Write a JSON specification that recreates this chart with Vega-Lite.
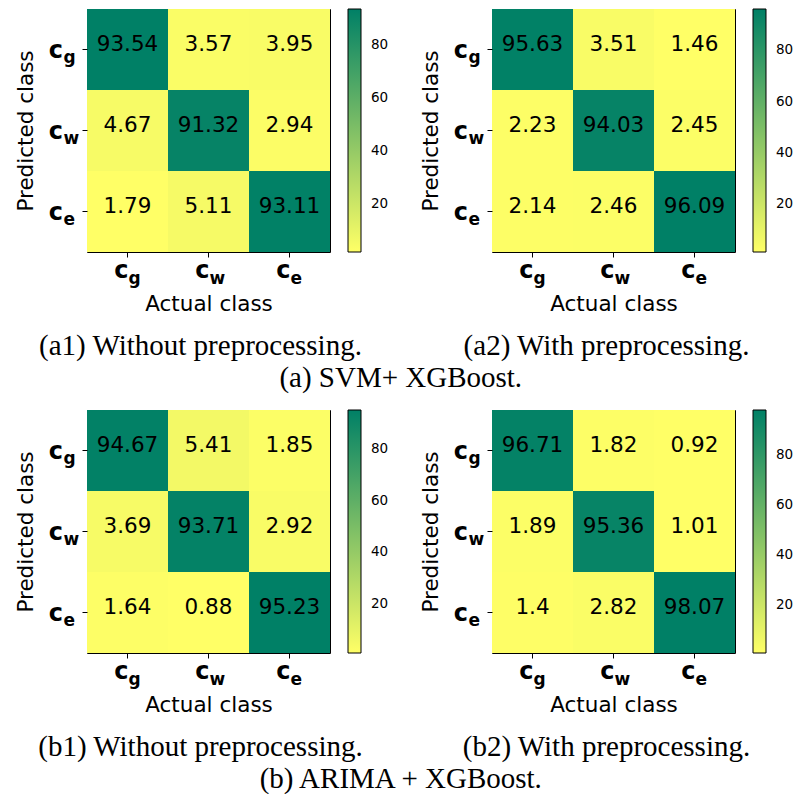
{
  "$schema": "https://vega.github.io/schema/vega-lite/v6.json",
  "padding": {"left": 15, "top": 8, "right": 0, "bottom": 0},
  "background": "white",
  "datasets": {
    "cm": [
      {"panel": "a1", "predicted": "c_g", "actual": "c_g", "value": 93.54},
      {"panel": "a1", "predicted": "c_g", "actual": "c_w", "value": 3.57},
      {"panel": "a1", "predicted": "c_g", "actual": "c_e", "value": 3.95},
      {"panel": "a1", "predicted": "c_w", "actual": "c_g", "value": 4.67},
      {"panel": "a1", "predicted": "c_w", "actual": "c_w", "value": 91.32},
      {"panel": "a1", "predicted": "c_w", "actual": "c_e", "value": 2.94},
      {"panel": "a1", "predicted": "c_e", "actual": "c_g", "value": 1.79},
      {"panel": "a1", "predicted": "c_e", "actual": "c_w", "value": 5.11},
      {"panel": "a1", "predicted": "c_e", "actual": "c_e", "value": 93.11},
      {"panel": "a2", "predicted": "c_g", "actual": "c_g", "value": 95.63},
      {"panel": "a2", "predicted": "c_g", "actual": "c_w", "value": 3.51},
      {"panel": "a2", "predicted": "c_g", "actual": "c_e", "value": 1.46},
      {"panel": "a2", "predicted": "c_w", "actual": "c_g", "value": 2.23},
      {"panel": "a2", "predicted": "c_w", "actual": "c_w", "value": 94.03},
      {"panel": "a2", "predicted": "c_w", "actual": "c_e", "value": 2.45},
      {"panel": "a2", "predicted": "c_e", "actual": "c_g", "value": 2.14},
      {"panel": "a2", "predicted": "c_e", "actual": "c_w", "value": 2.46},
      {"panel": "a2", "predicted": "c_e", "actual": "c_e", "value": 96.09},
      {"panel": "b1", "predicted": "c_g", "actual": "c_g", "value": 94.67},
      {"panel": "b1", "predicted": "c_g", "actual": "c_w", "value": 5.41},
      {"panel": "b1", "predicted": "c_g", "actual": "c_e", "value": 1.85},
      {"panel": "b1", "predicted": "c_w", "actual": "c_g", "value": 3.69},
      {"panel": "b1", "predicted": "c_w", "actual": "c_w", "value": 93.71},
      {"panel": "b1", "predicted": "c_w", "actual": "c_e", "value": 2.92},
      {"panel": "b1", "predicted": "c_e", "actual": "c_g", "value": 1.64},
      {"panel": "b1", "predicted": "c_e", "actual": "c_w", "value": 0.88},
      {"panel": "b1", "predicted": "c_e", "actual": "c_e", "value": 95.23},
      {"panel": "b2", "predicted": "c_g", "actual": "c_g", "value": 96.71},
      {"panel": "b2", "predicted": "c_g", "actual": "c_w", "value": 1.82},
      {"panel": "b2", "predicted": "c_g", "actual": "c_e", "value": 0.92},
      {"panel": "b2", "predicted": "c_w", "actual": "c_g", "value": 1.89},
      {"panel": "b2", "predicted": "c_w", "actual": "c_w", "value": 95.36},
      {"panel": "b2", "predicted": "c_w", "actual": "c_e", "value": 1.01},
      {"panel": "b2", "predicted": "c_e", "actual": "c_g", "value": 1.4},
      {"panel": "b2", "predicted": "c_e", "actual": "c_w", "value": 2.82},
      {"panel": "b2", "predicted": "c_e", "actual": "c_e", "value": 98.07}
    ],
    "cls": [
      {"cls": "c_g", "base": "c", "sub": "g"},
      {"cls": "c_w", "base": "c", "sub": "w"},
      {"cls": "c_e", "base": "c", "sub": "e"}
    ]
  },
  "spacing": 16,
  "resolve": {"scale": {"color": "independent"}, "legend": {"color": "independent"}},
  "vconcat": [
    {
      "title": {"text": "(a) SVM+ XGBoost.", "orient": "bottom", "anchor": "middle", "frame": "bounds", "baseline": "alphabetic", "offset": 25, "dx": -4, "font": "Liberation Serif", "fontSize": 29, "fontWeight": "normal", "color": "black"},
      "spacing": 30,
      "resolve": {"scale": {"color": "independent"}, "legend": {"color": "independent"}},
      "hconcat": [
        {
          "width": 243, "height": 243,
          "title": {"text": "(a1) Without preprocessing.", "orient": "bottom", "anchor": "middle", "baseline": "alphabetic", "offset": 40, "dx": -8, "font": "Liberation Serif", "fontSize": 29, "fontWeight": "normal", "color": "black"},
          "layer": [
            {"data": {"name": "cm"}, "transform": [{"filter": "datum.panel === 'a1'"}],
             "mark": {"type": "rect"},
             "encoding": {
               "x": {"field": "actual", "type": "nominal", "title": "Actual class", "scale": {"domain": ["c_g", "c_w", "c_e"], "paddingInner": 0, "paddingOuter": 0}},
               "y": {"field": "predicted", "type": "nominal", "title": "Predicted class", "scale": {"domain": ["c_g", "c_w", "c_e"], "paddingInner": 0, "paddingOuter": 0}},
               "color": {"field": "value", "type": "quantitative", "scale": {"type": "linear", "range": ["#ffff66", "#008066"], "zero": false, "nice": false, "interpolate": "rgb"}, "legend": {"title": null, "values": [20, 40, 60, 80], "labelFontSize": 13.5, "labelFont": "DejaVu Sans", "labelColor": "black", "labelOffset": 10}}
             }},
            {"data": {"name": "cm"}, "transform": [{"filter": "datum.panel === 'a1'"}],
             "mark": {"type": "text", "baseline": "alphabetic", "dy": 1.3, "fontSize": 21.5, "font": "DejaVu Sans", "color": "black"},
             "encoding": {
               "x": {"field": "actual", "type": "nominal", "title": "Actual class"},
               "y": {"field": "predicted", "type": "nominal", "title": "Predicted class"},
               "text": {"field": "value", "type": "nominal"}
             }},
            {"data": {"name": "cls"},
             "mark": {"type": "text", "align": "right", "baseline": "alphabetic", "dx": 1, "dy": 66, "fontSize": 24, "fontWeight": "bold", "font": "DejaVu Sans", "color": "black"},
             "encoding": {"x": {"field": "cls", "type": "nominal", "title": "Actual class"}, "y": {"datum": "c_e", "type": "nominal", "title": "Predicted class"}, "text": {"field": "base"}}},
            {"data": {"name": "cls"},
             "mark": {"type": "text", "align": "left", "baseline": "alphabetic", "dx": 1, "dy": 72.5, "fontSize": 17, "fontWeight": "bold", "font": "DejaVu Sans", "color": "black"},
             "encoding": {"x": {"field": "cls", "type": "nominal", "title": "Actual class"}, "y": {"datum": "c_e", "type": "nominal", "title": "Predicted class"}, "text": {"field": "sub"}}},
            {"data": {"name": "cls"},
             "mark": {"type": "text", "align": "right", "baseline": "alphabetic", "dx": -64.5, "dy": 8.5, "fontSize": 24, "fontWeight": "bold", "font": "DejaVu Sans", "color": "black"},
             "encoding": {"y": {"field": "cls", "type": "nominal", "title": "Predicted class"}, "x": {"datum": "c_g", "type": "nominal", "title": "Actual class"}, "text": {"field": "base"}}},
            {"data": {"name": "cls"},
             "mark": {"type": "text", "align": "left", "baseline": "alphabetic", "dx": -64, "dy": 13, "fontSize": 17, "fontWeight": "bold", "font": "DejaVu Sans", "color": "black"},
             "encoding": {"y": {"field": "cls", "type": "nominal", "title": "Predicted class"}, "x": {"datum": "c_g", "type": "nominal", "title": "Actual class"}, "text": {"field": "sub"}}}
          ]
        },
        {
          "width": 243, "height": 243,
          "title": {"text": "(a2) With preprocessing.", "orient": "bottom", "anchor": "middle", "baseline": "alphabetic", "offset": 40, "dx": -7, "font": "Liberation Serif", "fontSize": 29, "fontWeight": "normal", "color": "black"},
          "layer": [
            {"data": {"name": "cm"}, "transform": [{"filter": "datum.panel === 'a2'"}],
             "mark": {"type": "rect"},
             "encoding": {
               "x": {"field": "actual", "type": "nominal", "title": "Actual class", "scale": {"domain": ["c_g", "c_w", "c_e"], "paddingInner": 0, "paddingOuter": 0}},
               "y": {"field": "predicted", "type": "nominal", "title": "Predicted class", "scale": {"domain": ["c_g", "c_w", "c_e"], "paddingInner": 0, "paddingOuter": 0}},
               "color": {"field": "value", "type": "quantitative", "scale": {"type": "linear", "range": ["#ffff66", "#008066"], "zero": false, "nice": false, "interpolate": "rgb"}, "legend": {"title": null, "values": [20, 40, 60, 80], "labelFontSize": 13.5, "labelFont": "DejaVu Sans", "labelColor": "black", "labelOffset": 10}}
             }},
            {"data": {"name": "cm"}, "transform": [{"filter": "datum.panel === 'a2'"}],
             "mark": {"type": "text", "baseline": "alphabetic", "dy": 1.3, "fontSize": 21.5, "font": "DejaVu Sans", "color": "black"},
             "encoding": {
               "x": {"field": "actual", "type": "nominal", "title": "Actual class"},
               "y": {"field": "predicted", "type": "nominal", "title": "Predicted class"},
               "text": {"field": "value", "type": "nominal"}
             }},
            {"data": {"name": "cls"},
             "mark": {"type": "text", "align": "right", "baseline": "alphabetic", "dx": 1, "dy": 66, "fontSize": 24, "fontWeight": "bold", "font": "DejaVu Sans", "color": "black"},
             "encoding": {"x": {"field": "cls", "type": "nominal", "title": "Actual class"}, "y": {"datum": "c_e", "type": "nominal", "title": "Predicted class"}, "text": {"field": "base"}}},
            {"data": {"name": "cls"},
             "mark": {"type": "text", "align": "left", "baseline": "alphabetic", "dx": 1, "dy": 72.5, "fontSize": 17, "fontWeight": "bold", "font": "DejaVu Sans", "color": "black"},
             "encoding": {"x": {"field": "cls", "type": "nominal", "title": "Actual class"}, "y": {"datum": "c_e", "type": "nominal", "title": "Predicted class"}, "text": {"field": "sub"}}},
            {"data": {"name": "cls"},
             "mark": {"type": "text", "align": "right", "baseline": "alphabetic", "dx": -64.5, "dy": 8.5, "fontSize": 24, "fontWeight": "bold", "font": "DejaVu Sans", "color": "black"},
             "encoding": {"y": {"field": "cls", "type": "nominal", "title": "Predicted class"}, "x": {"datum": "c_g", "type": "nominal", "title": "Actual class"}, "text": {"field": "base"}}},
            {"data": {"name": "cls"},
             "mark": {"type": "text", "align": "left", "baseline": "alphabetic", "dx": -64, "dy": 13, "fontSize": 17, "fontWeight": "bold", "font": "DejaVu Sans", "color": "black"},
             "encoding": {"y": {"field": "cls", "type": "nominal", "title": "Predicted class"}, "x": {"datum": "c_g", "type": "nominal", "title": "Actual class"}, "text": {"field": "sub"}}}
          ]
        }
      ]
    },
    {
      "title": {"text": "(b) ARIMA + XGBoost.", "orient": "bottom", "anchor": "middle", "frame": "bounds", "baseline": "alphabetic", "offset": 25, "dx": -4, "font": "Liberation Serif", "fontSize": 29, "fontWeight": "normal", "color": "black"},
      "spacing": 30,
      "resolve": {"scale": {"color": "independent"}, "legend": {"color": "independent"}},
      "hconcat": [
        {
          "width": 243, "height": 243,
          "title": {"text": "(b1) Without preprocessing.", "orient": "bottom", "anchor": "middle", "baseline": "alphabetic", "offset": 40, "dx": -8, "font": "Liberation Serif", "fontSize": 29, "fontWeight": "normal", "color": "black"},
          "layer": [
            {"data": {"name": "cm"}, "transform": [{"filter": "datum.panel === 'b1'"}],
             "mark": {"type": "rect"},
             "encoding": {
               "x": {"field": "actual", "type": "nominal", "title": "Actual class", "scale": {"domain": ["c_g", "c_w", "c_e"], "paddingInner": 0, "paddingOuter": 0}},
               "y": {"field": "predicted", "type": "nominal", "title": "Predicted class", "scale": {"domain": ["c_g", "c_w", "c_e"], "paddingInner": 0, "paddingOuter": 0}},
               "color": {"field": "value", "type": "quantitative", "scale": {"type": "linear", "range": ["#ffff66", "#008066"], "zero": false, "nice": false, "interpolate": "rgb"}, "legend": {"title": null, "values": [20, 40, 60, 80], "labelFontSize": 13.5, "labelFont": "DejaVu Sans", "labelColor": "black", "labelOffset": 10}}
             }},
            {"data": {"name": "cm"}, "transform": [{"filter": "datum.panel === 'b1'"}],
             "mark": {"type": "text", "baseline": "alphabetic", "dy": 1.3, "fontSize": 21.5, "font": "DejaVu Sans", "color": "black"},
             "encoding": {
               "x": {"field": "actual", "type": "nominal", "title": "Actual class"},
               "y": {"field": "predicted", "type": "nominal", "title": "Predicted class"},
               "text": {"field": "value", "type": "nominal"}
             }},
            {"data": {"name": "cls"},
             "mark": {"type": "text", "align": "right", "baseline": "alphabetic", "dx": 1, "dy": 66, "fontSize": 24, "fontWeight": "bold", "font": "DejaVu Sans", "color": "black"},
             "encoding": {"x": {"field": "cls", "type": "nominal", "title": "Actual class"}, "y": {"datum": "c_e", "type": "nominal", "title": "Predicted class"}, "text": {"field": "base"}}},
            {"data": {"name": "cls"},
             "mark": {"type": "text", "align": "left", "baseline": "alphabetic", "dx": 1, "dy": 72.5, "fontSize": 17, "fontWeight": "bold", "font": "DejaVu Sans", "color": "black"},
             "encoding": {"x": {"field": "cls", "type": "nominal", "title": "Actual class"}, "y": {"datum": "c_e", "type": "nominal", "title": "Predicted class"}, "text": {"field": "sub"}}},
            {"data": {"name": "cls"},
             "mark": {"type": "text", "align": "right", "baseline": "alphabetic", "dx": -64.5, "dy": 8.5, "fontSize": 24, "fontWeight": "bold", "font": "DejaVu Sans", "color": "black"},
             "encoding": {"y": {"field": "cls", "type": "nominal", "title": "Predicted class"}, "x": {"datum": "c_g", "type": "nominal", "title": "Actual class"}, "text": {"field": "base"}}},
            {"data": {"name": "cls"},
             "mark": {"type": "text", "align": "left", "baseline": "alphabetic", "dx": -64, "dy": 13, "fontSize": 17, "fontWeight": "bold", "font": "DejaVu Sans", "color": "black"},
             "encoding": {"y": {"field": "cls", "type": "nominal", "title": "Predicted class"}, "x": {"datum": "c_g", "type": "nominal", "title": "Actual class"}, "text": {"field": "sub"}}}
          ]
        },
        {
          "width": 243, "height": 243,
          "title": {"text": "(b2) With preprocessing.", "orient": "bottom", "anchor": "middle", "baseline": "alphabetic", "offset": 40, "dx": -7, "font": "Liberation Serif", "fontSize": 29, "fontWeight": "normal", "color": "black"},
          "layer": [
            {"data": {"name": "cm"}, "transform": [{"filter": "datum.panel === 'b2'"}],
             "mark": {"type": "rect"},
             "encoding": {
               "x": {"field": "actual", "type": "nominal", "title": "Actual class", "scale": {"domain": ["c_g", "c_w", "c_e"], "paddingInner": 0, "paddingOuter": 0}},
               "y": {"field": "predicted", "type": "nominal", "title": "Predicted class", "scale": {"domain": ["c_g", "c_w", "c_e"], "paddingInner": 0, "paddingOuter": 0}},
               "color": {"field": "value", "type": "quantitative", "scale": {"type": "linear", "range": ["#ffff66", "#008066"], "zero": false, "nice": false, "interpolate": "rgb"}, "legend": {"title": null, "values": [20, 40, 60, 80], "labelFontSize": 13.5, "labelFont": "DejaVu Sans", "labelColor": "black", "labelOffset": 10}}
             }},
            {"data": {"name": "cm"}, "transform": [{"filter": "datum.panel === 'b2'"}],
             "mark": {"type": "text", "baseline": "alphabetic", "dy": 1.3, "fontSize": 21.5, "font": "DejaVu Sans", "color": "black"},
             "encoding": {
               "x": {"field": "actual", "type": "nominal", "title": "Actual class"},
               "y": {"field": "predicted", "type": "nominal", "title": "Predicted class"},
               "text": {"field": "value", "type": "nominal"}
             }},
            {"data": {"name": "cls"},
             "mark": {"type": "text", "align": "right", "baseline": "alphabetic", "dx": 1, "dy": 66, "fontSize": 24, "fontWeight": "bold", "font": "DejaVu Sans", "color": "black"},
             "encoding": {"x": {"field": "cls", "type": "nominal", "title": "Actual class"}, "y": {"datum": "c_e", "type": "nominal", "title": "Predicted class"}, "text": {"field": "base"}}},
            {"data": {"name": "cls"},
             "mark": {"type": "text", "align": "left", "baseline": "alphabetic", "dx": 1, "dy": 72.5, "fontSize": 17, "fontWeight": "bold", "font": "DejaVu Sans", "color": "black"},
             "encoding": {"x": {"field": "cls", "type": "nominal", "title": "Actual class"}, "y": {"datum": "c_e", "type": "nominal", "title": "Predicted class"}, "text": {"field": "sub"}}},
            {"data": {"name": "cls"},
             "mark": {"type": "text", "align": "right", "baseline": "alphabetic", "dx": -64.5, "dy": 8.5, "fontSize": 24, "fontWeight": "bold", "font": "DejaVu Sans", "color": "black"},
             "encoding": {"y": {"field": "cls", "type": "nominal", "title": "Predicted class"}, "x": {"datum": "c_g", "type": "nominal", "title": "Actual class"}, "text": {"field": "base"}}},
            {"data": {"name": "cls"},
             "mark": {"type": "text", "align": "left", "baseline": "alphabetic", "dx": -64, "dy": 13, "fontSize": 17, "fontWeight": "bold", "font": "DejaVu Sans", "color": "black"},
             "encoding": {"y": {"field": "cls", "type": "nominal", "title": "Predicted class"}, "x": {"datum": "c_g", "type": "nominal", "title": "Actual class"}, "text": {"field": "sub"}}}
          ]
        }
      ]
    }
  ],
  "config": {
    "font": "DejaVu Sans",
    "view": {"stroke": "black", "strokeWidth": 1},
    "axis": {"labels": false, "ticks": true, "tickSize": 5, "tickColor": "black", "tickWidth": 1, "domain": false, "grid": false, "bandPosition": 0.5, "titleFont": "DejaVu Sans", "titleFontSize": 21.5, "titleFontWeight": "normal", "titleColor": "black"},
    "axisX": {"titlePadding": 36},
    "axisY": {"titlePadding": 44},
    "legend": {"orient": "right", "offset": 17.5, "padding": 0, "gradientLength": 243, "gradientThickness": 13, "labelFont": "DejaVu Sans", "labelFontSize": 13.5, "labelColor": "black", "labelOffset": 10, "gradientStrokeColor": "black", "gradientStrokeWidth": 1}
  }
}
